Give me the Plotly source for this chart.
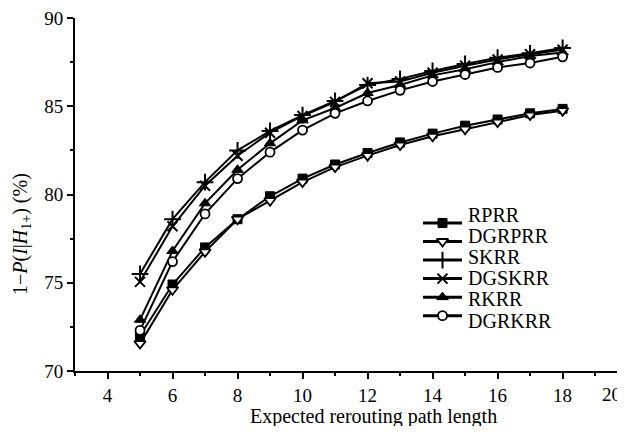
import plotly.graph_objects as go

# ---------------- data ----------------
x_vals = [5, 6, 7, 8, 9, 10, 11, 12, 13, 14, 15, 16, 17, 18]

rprr   = [72.0, 74.9, 77.0, 78.6, 79.9, 80.9, 81.7, 82.35, 82.95, 83.45, 83.9, 84.25, 84.6, 84.85]
dgrprr = [71.55, 74.6, 76.75, 78.6, 79.65, 80.7, 81.55, 82.2, 82.8, 83.3, 83.7, 84.1, 84.5, 84.75]
skrr   = [75.5, 78.6, 80.7, 82.5, 83.6, 84.5, 85.3, 86.2, 86.55, 87.0, 87.4, 87.75, 88.0, 88.3]
dgskrr = [75.05, 78.2, 80.5, 82.2, 83.5, 84.45, 85.25, 86.3, 86.4, 86.9, 87.3, 87.65, 87.95, 88.2]
rkrr   = [72.9, 76.8, 79.5, 81.4, 82.9, 84.2, 84.9, 85.75, 86.2, 86.75, 87.1, 87.5, 87.85, 88.05]
dgrkrr = [72.3, 76.2, 78.9, 80.9, 82.4, 83.65, 84.6, 85.3, 85.9, 86.4, 86.8, 87.2, 87.45, 87.8]

series_names = ["RPRR", "DGRPRR", "SKRR", "DGSKRR", "RKRR", "DGRKRR"]
series_values = [rprr, dgrprr, skrr, dgskrr, rkrr, dgrkrr]

x_ticks = [4, 6, 8, 10, 12, 14, 16, 18, 20]
y_ticks = [70, 75, 80, 85, 90]

# ---------------- styles ----------------
FONT = "Liberation Serif"
markers = [
    dict(symbol="square", size=9, color="black", line=dict(color="black", width=1)),
    dict(symbol="triangle-down", size=10, color="white", line=dict(color="black", width=1.8)),
    dict(symbol="cross-thin", size=12, color="black", line=dict(color="black", width=2)),
    dict(symbol="x-thin", size=10, color="black", line=dict(color="black", width=2)),
    dict(symbol="triangle-up", size=10, color="black", line=dict(color="black", width=1)),
    dict(symbol="circle", size=9, color="white", line=dict(color="black", width=1.8)),
]

W, H = 617, 418          # page body adds an 8 px offset
ML, MR, MT, MB = 67, 0, 7, 55

fig = go.Figure()
for name, ys, mk in zip(series_names, series_values, markers):
    fig.add_trace(go.Scatter(
        x=x_vals, y=ys, name=name, mode="lines+markers", showlegend=False,
        line=dict(color="black", width=2), marker=mk,
    ))

# ---------------- hand-made legend (pixel overlay axes) ----------------
LEG_X0, LEG_X1, LEG_TX = 415, 454, 458
LEG_LY0, LEG_LDY = 213.7, 18.7
LEG_TY0, LEG_TDY = 205.6, 21.3
for i, (name, mk) in enumerate(zip(series_names, markers)):
    ly = LEG_LY0 + LEG_LDY * i
    fig.add_trace(go.Scatter(
        x=[LEG_X0, LEG_X1], y=[ly, ly], mode="lines", xaxis="x2", yaxis="y2",
        showlegend=False, hoverinfo="skip", line=dict(color="black", width=3),
    ))
    fig.add_trace(go.Scatter(
        x=[(LEG_X0 + LEG_X1) / 2], y=[ly], mode="markers", xaxis="x2", yaxis="y2",
        showlegend=False, hoverinfo="skip", marker=mk,
    ))
    fig.add_annotation(text=name, xref="x2", yref="y2", x=LEG_TX,
                       y=LEG_TY0 + LEG_TDY * i, xanchor="left", yanchor="middle",
                       showarrow=False, font=dict(family=FONT, size=20, color="black"))

fig.update_layout(
    width=W, height=H,
    margin=dict(l=ML, r=MR, t=MT, b=MB),
    paper_bgcolor="white", plot_bgcolor="white",
    font=dict(family=FONT, size=19, color="black"),
    showlegend=False,
    xaxis=dict(
        range=[3, 19.92], tickvals=x_ticks, showgrid=False, zeroline=False,
        showline=True, linecolor="black", linewidth=2,
        ticks="outside", ticklen=6, tickwidth=2, tickcolor="black",
        minor=dict(ticks="outside", ticklen=3, tickwidth=2, tickcolor="black", dtick=1, tick0=3),
        tickfont=dict(family=FONT, size=19), ticklabeloverflow="allow",
    ),
    yaxis=dict(
        range=[70, 90], tickvals=y_ticks, showgrid=False, zeroline=False,
        showline=True, linecolor="black", linewidth=2,
        ticks="outside", ticklen=6, tickwidth=2, tickcolor="black",
        minor=dict(ticks="outside", ticklen=3, tickwidth=2, tickcolor="black", dtick=2.5, tick0=70),
        tickfont=dict(family=FONT, size=19), ticklabeloverflow="allow",
    ),
    xaxis2=dict(range=[ML, W - MR], overlaying="x", anchor="y2", visible=False, fixedrange=True),
    yaxis2=dict(range=[H - MB, MT], overlaying="y", anchor="x2", visible=False, fixedrange=True),
)

# tick label at the clipped right end of the x-axis
fig.add_annotation(text="20", xref="paper", yref="paper", x=1.0, xshift=-2, y=0, yshift=-23,
                   xanchor="right", yanchor="middle", showarrow=False,
                   font=dict(family=FONT, size=19, color="black"))

# axis titles
fig.add_annotation(text="Expected rerouting path length", xref="paper", yref="paper",
                   x=0.542, y=0, yshift=-45, xanchor="center", yanchor="middle", showarrow=False,
                   font=dict(family=FONT, size=20, color="black"))
fig.add_annotation(text="1\u2212<i>P</i>(<i>I</i>|<i>H</i><sub>1+</sub>) (%)",
                   xref="paper", yref="paper", x=0, xshift=-54, y=0.388, textangle=-90,
                   xanchor="center", yanchor="middle", showarrow=False,
                   font=dict(family=FONT, size=20, color="black"))

fig.write_html("out.html")
